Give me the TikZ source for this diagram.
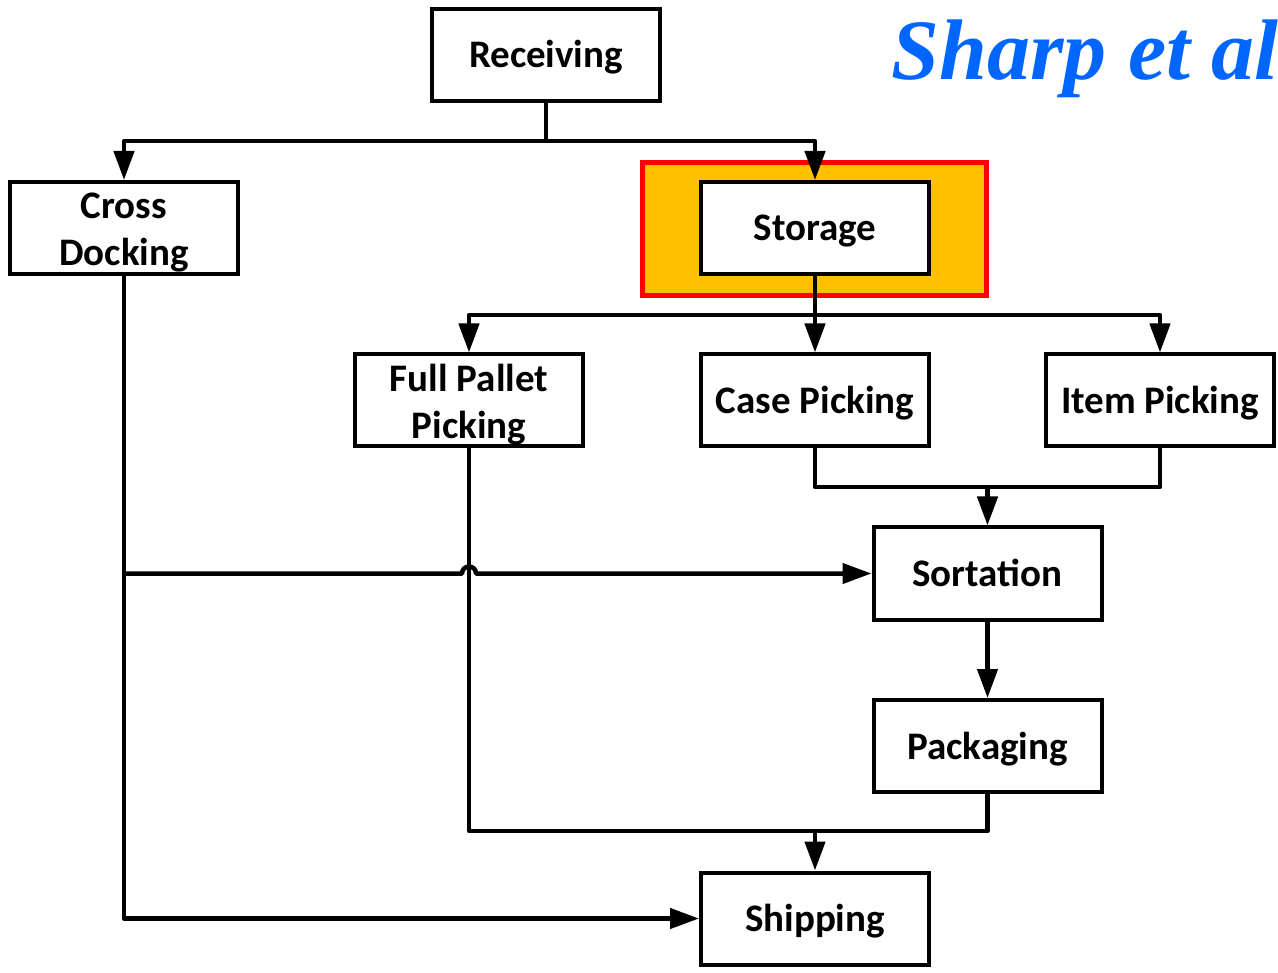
\documentclass[tikz,border=0pt]{standalone}
\usepackage{fontspec}
\setmainfont{Carlito}
\newfontfamily\titlefont{Liberation Serif}
\usetikzlibrary{arrows.meta}
\definecolor{titleblue}{RGB}{0,102,255}
\definecolor{hlorange}{RGB}{255,192,0}
\definecolor{hlred}{RGB}{255,0,0}
\newcommand{\twolines}[2]{\smash{\begin{tabular}[t]{@{}c@{}}#1\\#2\end{tabular}}}
\begin{document}
\begin{tikzpicture}[x=1pt,y=-1pt,
  basebox/.style={draw=black,line width=4pt,fill=white,minimum width=228pt,minimum height=92pt,inner sep=0pt,font=\fontsize{39}{47}\selectfont\bfseries},
  box/.style={basebox,text height=28pt,text depth=2pt},
  twobox/.style={basebox,text height=0pt,text depth=18pt},
  conn/.style={line width=4.5pt,line join=round},
  arr/.style={conn,-{Triangle[length=29pt,width=20pt]}}]
\useasboundingbox (0,0) rectangle (1278,973);
% highlight
\node[draw=hlred,fill=hlorange,line width=4.5pt,minimum width=344pt,minimum height=133pt,inner sep=0pt] (hl) at (814.5,229) {};
% boxes
\node[box] (rec) at (546,55) {Receiving};
\node[twobox] (cd) at (124,228) {\twolines{Cross}{Docking}};
\node[box] (st) at (815,228) {Storage};
\node[twobox] (fp) at (469,400.5) {\twolines{Full Pallet}{Picking}};
\node[box] (cp) at (815,400.5) {Case Picking};
\node[box] (ip) at (1160,400.5) {Item Picking};
\node[box] (so) at (987.5,573.5) {Sortation};
\node[box] (pk) at (987.5,746) {Packaging};
\node[box] (sh) at (815,918.5) {Shipping};
% title
\node[anchor=base east,inner sep=0pt,text=titleblue,font=\titlefont\fontsize{86}{90}\selectfont\bfseries\itshape] (title) at (1279,80) {Sharp et al};
% Receiving -> Cross Docking, Storage
\coordinate (j1) at (546,141);
\draw[conn] (rec.south) -- (j1);
\draw[arr] (j1) -| (cd.north);
\draw[arr] (j1) -| (st.north);
% Storage -> pickings
\coordinate (j2) at (815,315);
\draw[arr] (st.south) -- (cp.north);
\draw[arr] (j2) -| (fp.north);
\draw[arr] (j2) -| (ip.north);
% Case/Item -> Sortation
\coordinate (j3) at (987.5,487);
\draw[conn] (cp.south) |- (j3) -| (ip.south);
\draw[arr] (j3) -- (so.north);
% Sortation -> Packaging
\draw[arr] (so.south) -- (pk.north);
% Full pallet & Packaging -> Shipping
\coordinate (j4) at (815,831);
\draw[conn] (fp.south) |- (j4) -| (pk.south);
\draw[arr] (j4) -- (sh.north);
% Cross docking -> Shipping, Sortation
\coordinate (j5) at (124,573.5);
\draw[arr] (cd.south) |- (sh.west);
\draw[arr] (j5) -- (462,573.5) arc (180:0:7pt) -- (so.west);
\end{tikzpicture}
\end{document}
